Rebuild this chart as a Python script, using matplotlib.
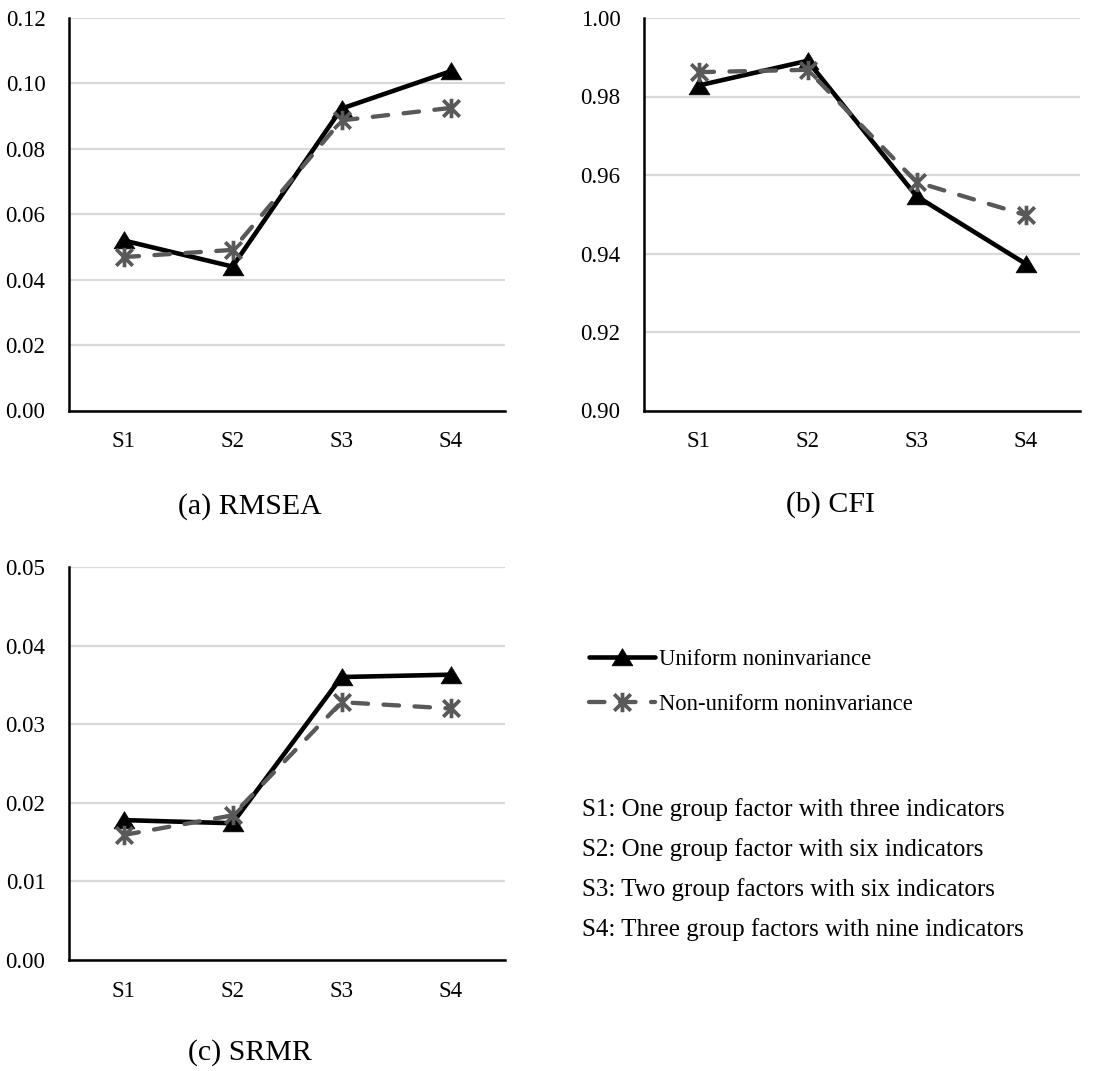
import matplotlib
matplotlib.use("Agg")
import matplotlib.pyplot as plt
from matplotlib.path import Path

plt.rcParams['font.family'] = ['Liberation Serif', 'DejaVu Serif']

# ---- data ----
scenarios = ["S1", "S2", "S3", "S4"]
series_names = ["Uniform noninvariance", "Non-uniform noninvariance"]

rmsea_uniform = [0.052, 0.044, 0.0923, 0.1037]
rmsea_nonuniform = [0.0469, 0.0491, 0.0887, 0.0925]

cfi_uniform = [0.9828, 0.9891, 0.9546, 0.9374]
cfi_nonuniform = [0.9862, 0.9868, 0.9582, 0.9498]

srmr_uniform = [0.0178, 0.0174, 0.0360, 0.0363]
srmr_nonuniform = [0.0159, 0.0184, 0.0328, 0.0320]

rmsea_ticks = [0.00, 0.02, 0.04, 0.06, 0.08, 0.10, 0.12]
cfi_ticks = [0.90, 0.92, 0.94, 0.96, 0.98, 1.00]
srmr_ticks = [0.00, 0.01, 0.02, 0.03, 0.04, 0.05]

panel_titles = ["(a) RMSEA", "(b) CFI", "(c) SRMR"]
scenario_notes = [
    "S1: One group factor with three indicators",
    "S2: One group factor with six indicators",
    "S3: Two group factors with six indicators",
    "S4: Three group factors with nine indicators",
]

# ---- styles ----
BLACK = "#000000"
GRAY = "#595959"
GRID = "#D9D9D9"

tri = Path([(-1.0, -0.8), (1.0, -0.8), (0.0, 0.85), (-1.0, -0.8)],
           [Path.MOVETO, Path.LINETO, Path.LINETO, Path.CLOSEPOLY])
ast = Path([(0, -1), (0, 1), (-0.85, -0.85), (0.85, 0.85), (-0.85, 0.85), (0.85, -0.85)],
           [Path.MOVETO, Path.LINETO, Path.MOVETO, Path.LINETO, Path.MOVETO, Path.LINETO])

W, H = 1111, 1071
fig = plt.figure(figsize=(W / 100, H / 100), dpi=100)


def px_axes(left, top, right, bottom):
    return fig.add_axes([left / W, (H - bottom) / H, (right - left) / W, (bottom - top) / H])


def draw_panel(ax, uni, non, ticks, fmt):
    x = list(range(len(scenarios)))
    l1, = ax.plot(x, uni, color=BLACK, lw=3.3, marker=tri, ms=15,
                  mfc=BLACK, mec=BLACK, mew=0.5, solid_capstyle='round',
                  solid_joinstyle='round', zorder=3)
    l2, = ax.plot(x, non, color=GRAY, lw=3.1, marker=ast, ms=14,
                  mfc='none', mec=GRAY, mew=2.7, dash_capstyle='round',
                  zorder=4)
    l2.set_dashes([3.6, 3.6])
    ax.set_xlim(-0.5, len(scenarios) - 0.5)
    ax.set_ylim(ticks[0], ticks[-1])
    ax.set_yticks(ticks)
    ax.set_yticklabels([fmt.format(t) for t in ticks])
    ax.set_xticks(x)
    ax.set_xticklabels(scenarios)
    ax.tick_params(axis='both', length=0, labelsize=16.5, colors='#000000')
    ax.tick_params(axis='y', pad=17)
    ax.tick_params(axis='x', pad=15)
    ax.grid(axis='y', color=GRID, lw=1.6, zorder=0)
    ax.set_axisbelow(True)
    for s in ('top', 'right'):
        ax.spines[s].set_visible(False)
    for s in ('left', 'bottom'):
        ax.spines[s].set_linewidth(1.8)
        ax.spines[s].set_color(BLACK)
        ax.spines[s].set_zorder(2)
    return l1, l2


ax_a = px_axes(69, 18, 505, 410.5)
ax_b = px_axes(644, 18, 1080, 410.5)
ax_c = px_axes(69, 567, 505, 960)

draw_panel(ax_a, rmsea_uniform, rmsea_nonuniform, rmsea_ticks, "{:.2f}")
draw_panel(ax_b, cfi_uniform, cfi_nonuniform, cfi_ticks, "{:.2f}")
h1, h2 = draw_panel(ax_c, srmr_uniform, srmr_nonuniform, srmr_ticks, "{:.2f}")

# panel captions
for (cx, cy), title in zip([(250, 507), (830, 505), (250, 1053)], panel_titles):
    fig.text(cx / W, 1 - cy / H, title, ha='center', va='center', fontsize=21.5)

# legend
fig.legend([h1, h2], series_names, loc='center left',
           bbox_to_anchor=(589 / W, 1 - 682 / H), frameon=False,
           fontsize=16.3, handlelength=2.9, handletextpad=0.2,
           labelspacing=1.05, borderpad=0, borderaxespad=0)

# scenario descriptions
for i, note in enumerate(scenario_notes):
    fig.text(582 / W, 1 - (810 + i * 39.7) / H, note, ha='left', va='center',
             fontsize=18)

fig.savefig("out.png", dpi=100, facecolor='white')
